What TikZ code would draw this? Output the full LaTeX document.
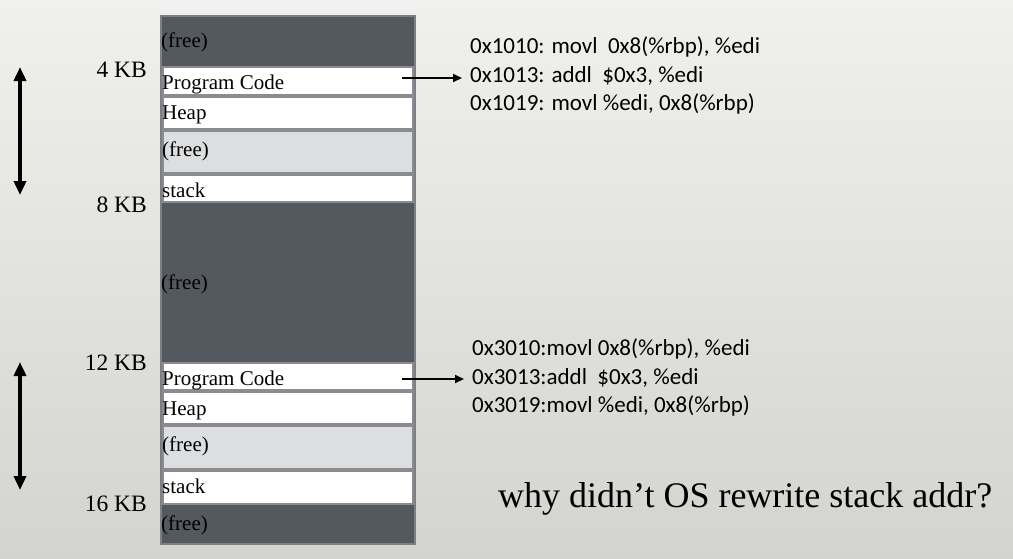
\documentclass[tikz,border=0pt]{standalone}
\usepackage{fontspec}
\setmainfont{Liberation Serif}
\newfontfamily\codefont{Carlito}
\usetikzlibrary{arrows.meta}
\definecolor{darkfree}{HTML}{54585F}
\definecolor{colborder}{HTML}{7C8086}
\definecolor{lightfree}{HTML}{DDDEE0}
\definecolor{boxborder}{HTML}{8A8C90}
\definecolor{bgtop}{HTML}{F0F0EE}
\definecolor{bgbot}{HTML}{D3D3CF}
\tikzset{
  region/.style={draw=boxborder, line width=2pt, anchor=north west, inner sep=0pt},
  wbox/.style={region, fill=white},
  lbox/.style={region, fill=lightfree},
  lbl/.style={anchor=base west, inner sep=0pt, font=\fontsize{21}{21}\selectfont},
  kb/.style={anchor=base east, inner sep=0pt, font=\fontsize{23.5}{23.5}\selectfont},
  code/.style={anchor=base west, inner sep=0pt, font=\codefont\fontsize{23}{23}\selectfont},
  bigarrow/.style={line width=4pt, {Triangle[width=12pt,length=14pt]}-{Triangle[width=12pt,length=14pt]}},
  ptr/.style={line width=2pt, -{Triangle[width=8pt,length=9pt]}, shorten >=8pt},
}
\begin{document}
\begin{tikzpicture}[x=1pt,y=-1pt]
\useasboundingbox (0,0) rectangle (1013,558);
\shade[top color=bgtop, bottom color=bgbot] (0,0) rectangle (1013,558);
% column
\node[draw=colborder, fill=darkfree, line width=2pt, anchor=north west, inner sep=0pt,
      minimum width=254pt, minimum height=528pt] (col) at (160,15) {};
% top process
\node[wbox, minimum width=250pt, minimum height=28pt] (pc1) at (162,66) {};
\node[wbox, minimum width=250pt, minimum height=32pt] (hp1) at (162,96) {};
\node[lbox, minimum width=250pt, minimum height=42pt] (fr1) at (162,130) {};
\node[wbox, minimum width=250pt, minimum height=27pt] (st1) at (162,174) {};
% bottom process
\node[wbox, minimum width=250pt, minimum height=27pt] (pc2) at (162,362) {};
\node[wbox, minimum width=250pt, minimum height=32pt] (hp2) at (162,391) {};
\node[lbox, minimum width=250pt, minimum height=43pt] (fr2) at (162,425) {};
\node[wbox, minimum width=250pt, minimum height=33pt] (st2) at (162,470) {};
% labels in column
\node[lbl] (t1) at (161,47) {(free)};
\node[lbl] (t2) at (162,89) {Program Code};
\node[lbl] (t3) at (162,119) {Heap};
\node[lbl] (t4) at (162,156) {(free)};
\node[lbl] (t5) at (162,197) {stack};
\node[lbl] (t6) at (161,289) {(free)};
\node[lbl] (t7) at (162,385) {Program Code};
\node[lbl] (t8) at (162,415) {Heap};
\node[lbl] (t9) at (162,451) {(free)};
\node[lbl] (t10) at (162,493) {stack};
\node[lbl] (t11) at (161,530) {(free)};
% KB labels
\node[kb] (k4) at (147,77) {4 KB};
\node[kb] (k8) at (147,212) {8 KB};
\node[kb] (k12) at (147,370) {12 KB};
\node[kb] (k16) at (147,511) {16 KB};
% left arrows
\coordinate (a1t) at (20,67);
\coordinate (a1b) at (20,195);
\coordinate (a2t) at (20,362);
\coordinate (a2b) at (20,490);
\draw[bigarrow] (a1t) -- (a1b);
\draw[bigarrow] (a2t) -- (a2b);
% code
\node[code] (c11) at (470,53) {0x1010: movl\ \ 0x8(\%rbp), \%edi};
\node[code] (c12) at (470,82) {0x1013: addl\ \ \$0x3, \%edi};
\node[code] (c13) at (470,110) {0x1019: movl \%edi, 0x8(\%rbp)};
\node[code] (c21) at (472,355) {0x3010:movl 0x8(\%rbp), \%edi};
\node[code] (c22) at (472,384) {0x3013:addl\ \ \$0x3, \%edi};
\node[code] (c23) at (472,412) {0x3019:movl \%edi, 0x8(\%rbp)};
\coordinate (p1) at (402,78);
\coordinate (p2) at (402,379);
\draw[ptr] (p1) -- (c12.west |- p1);
\draw[ptr] (p2) -- (c22.west |- p2);
% question
\node[anchor=base west, inner sep=0pt, font=\fontsize{36}{36}\selectfont] (q) at (498,507) {why didn’t OS rewrite stack addr?};
\end{tikzpicture}
\end{document}
